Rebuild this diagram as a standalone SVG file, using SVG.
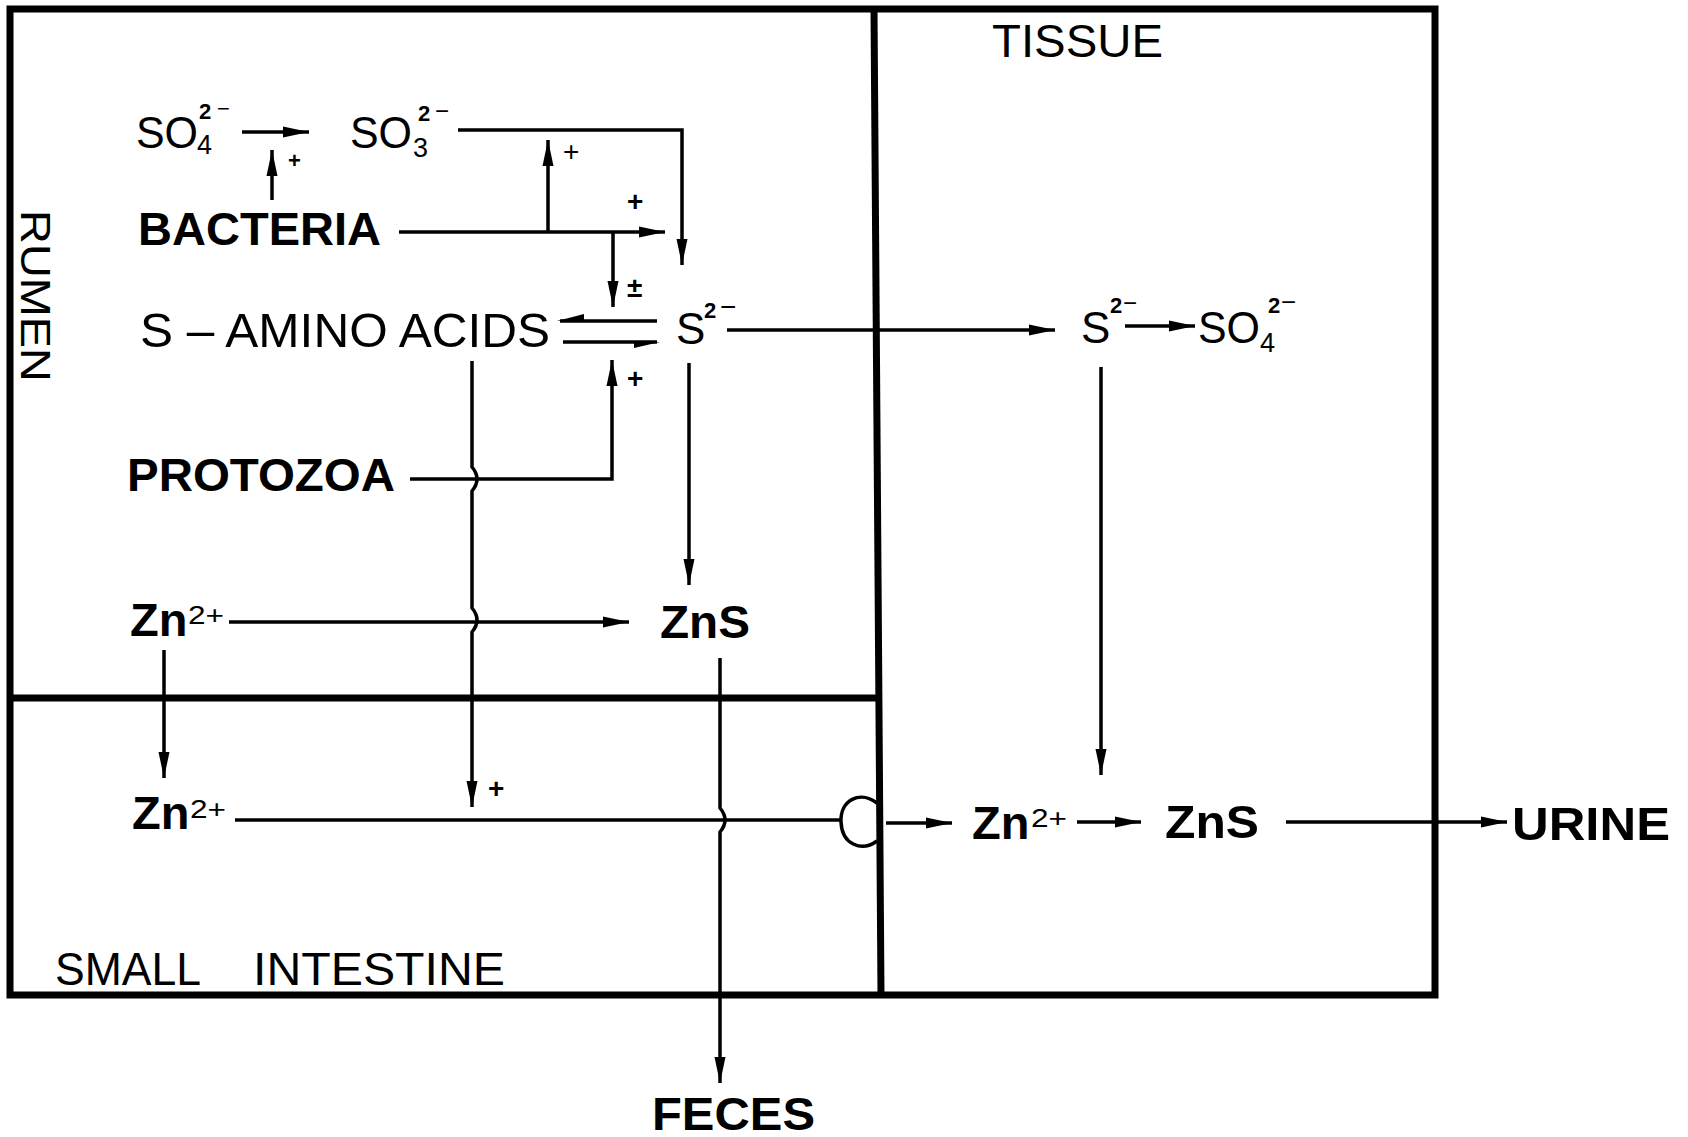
<svg xmlns="http://www.w3.org/2000/svg" width="1688" height="1137" viewBox="0 0 1688 1137">
<style>
text{font-family:"Liberation Sans",Arial,sans-serif;fill:#000}
.r{font-size:46px}
.b{font-size:47px;font-weight:bold}
.f{font-size:44px}
.sub{font-size:27px}
.sup{font-size:22px;font-weight:bold}
.zs{font-size:26px}
.pl{font-size:28px;font-weight:bold}
.c{fill:none;stroke:#000;stroke-width:3.5}
.box{fill:none;stroke:#000;stroke-width:7}
</style>
<defs>
<marker id="ah" markerUnits="userSpaceOnUse" markerWidth="28" markerHeight="14" refX="26" refY="7" orient="auto">
<path d="M0,1.5 L26,7 L0,12.5 z" fill="#000"/>
</marker>
</defs>
<g id="compartments">
<rect class="box" x="10" y="9" width="1425" height="986"/>
<path class="box" d="M874,9 L881,995" stroke-width="8"/>
<path class="box" d="M10,698 H878" stroke-width="8"/>
<text class="r" x="992" y="57" textLength="171" lengthAdjust="spacingAndGlyphs">TISSUE</text>
<text transform="translate(21,210) rotate(90)" style="font-size:42px" textLength="172" lengthAdjust="spacingAndGlyphs">RUMEN</text>
<text class="r" x="55" y="985" textLength="146" lengthAdjust="spacingAndGlyphs">SMALL</text>
<text class="r" x="253" y="985" textLength="252" lengthAdjust="spacingAndGlyphs">INTESTINE</text>
</g>
<g id="connectors">
<path class="c" d="M242,132 H309" marker-end="url(#ah)"/>
<path class="c" d="M272,200 V150" marker-end="url(#ah)"/>
<path class="c" d="M458,130 H682 V265" marker-end="url(#ah)"/>
<path class="c" d="M399,232 H665" marker-end="url(#ah)"/>
<path class="c" d="M548,232 V140" marker-end="url(#ah)"/>
<path class="c" d="M613,232 V307" marker-end="url(#ah)"/>
<path class="c" d="M560,321 H657"/>
<path d="M557,321 L584,314 L584,321 z" fill="#000"/>
<path class="c" d="M563,342 H657"/>
<path d="M660,342 L634,342 L634,348 z" fill="#000"/>
<path class="c" d="M410,479 H612 V360" marker-end="url(#ah)"/>
<path class="c" d="M727,330 H1055" marker-end="url(#ah)"/>
<path class="c" d="M1125,326 H1195" marker-end="url(#ah)"/>
<path class="c" d="M1101,367 V775" marker-end="url(#ah)"/>
<path class="c" d="M689,363 V585" marker-end="url(#ah)"/>
<path class="c" d="M229,622 H629" marker-end="url(#ah)"/>
<path class="c" d="M472,361 V467 Q482,479 472,491 V608 Q482,620 472,632 V807" marker-end="url(#ah)"/>
<path class="c" d="M164,650 V778" marker-end="url(#ah)"/>
<path class="c" d="M720,658 V808 Q730,820 720,832 V1083" marker-end="url(#ah)"/>
<path class="c" d="M235,820 H841"/>
<path class="c" d="M877,803 C860,790 840,800 841,822 C842,845 862,852 877,841"/>
<path class="c" d="M886,823 H952" marker-end="url(#ah)"/>
<path class="c" d="M1077,822 H1141" marker-end="url(#ah)"/>
<path class="c" d="M1286,822 H1507" marker-end="url(#ah)"/>
<text x="288" y="168" style="font-size:22px;font-weight:bold">+</text>
<text x="563" y="161" style="font-size:28px">+</text>
<text class="pl" x="627" y="211">+</text>
<text class="pl" x="627" y="297">±</text>
<text class="pl" x="627" y="388">+</text>
<text class="pl" x="488" y="798">+</text>
</g>
<g id="so4-rumen">
<text class="f" x="136" y="148" textLength="62" lengthAdjust="spacingAndGlyphs">SO</text>
<text class="sub" x="197" y="154">4</text>
<text class="sup" x="199" y="119">2</text>
<text style="font-size:22px" x="217" y="116">−</text>
</g>
<g id="so3">
<text class="f" x="350" y="148" textLength="62" lengthAdjust="spacingAndGlyphs">SO</text>
<text class="sub" x="413" y="157">3</text>
<text class="sup" x="418" y="121">2</text>
<text style="font-size:24px" x="435" y="119">−</text>
</g>
<g id="bacteria"><text class="b" x="138" y="245" textLength="243" lengthAdjust="spacingAndGlyphs">BACTERIA</text></g>
<g id="s-amino-acids"><text style="font-size:49px" x="140" y="347" textLength="410" lengthAdjust="spacingAndGlyphs">S – AMINO ACIDS</text></g>
<g id="s2-rumen">
<text class="f" x="676" y="344">S</text>
<text class="sup" x="704" y="318">2</text>
<text style="font-size:28px" x="720" y="316">−</text>
</g>
<g id="protozoa"><text class="b" x="127" y="491" textLength="268" lengthAdjust="spacingAndGlyphs">PROTOZOA</text></g>
<g id="zn-rumen">
<text class="b" x="130" y="636">Zn</text>
<text class="zs" x="188" y="624" textLength="36" lengthAdjust="spacingAndGlyphs">2+</text>
</g>
<g id="zns-rumen"><text class="b" x="660" y="638" textLength="90" lengthAdjust="spacingAndGlyphs">ZnS</text></g>
<g id="zn-si">
<text class="b" x="132" y="829">Zn</text>
<text class="zs" x="190" y="818" textLength="36" lengthAdjust="spacingAndGlyphs">2+</text>
</g>
<g id="s2-tissue">
<text class="f" x="1081" y="343">S</text>
<text class="sup" x="1110" y="313">2</text>
<text style="font-size:24px" x="1123" y="311">−</text>
</g>
<g id="so4-tissue">
<text class="f" x="1198" y="343" textLength="62" lengthAdjust="spacingAndGlyphs">SO</text>
<text class="sub" x="1260" y="352">4</text>
<text class="sup" x="1268" y="313">2</text>
<text style="font-size:26px" x="1281" y="311">−</text>
</g>
<g id="zn-tissue">
<text class="b" x="972" y="839">Zn</text>
<text class="zs" x="1031" y="827" textLength="36" lengthAdjust="spacingAndGlyphs">2+</text>
</g>
<g id="zns-tissue"><text class="b" x="1165" y="838" textLength="94" lengthAdjust="spacingAndGlyphs">ZnS</text></g>
<g id="urine"><text class="b" x="1512" y="840" textLength="158" lengthAdjust="spacingAndGlyphs">URINE</text></g>
<g id="feces"><text class="b" x="652" y="1130" textLength="163" lengthAdjust="spacingAndGlyphs">FECES</text></g>
</svg>
